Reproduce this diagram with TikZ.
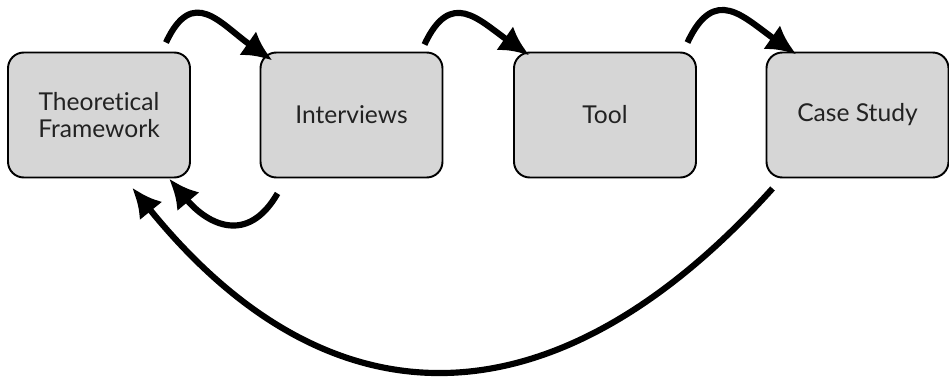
\documentclass[tikz,border=0pt]{standalone}
\usepackage{fontspec}
\setmainfont{Lato}[Ligatures=NoCommon]
\usetikzlibrary{arrows.meta}
\definecolor{boxgray}{RGB}{214,214,214}
\definecolor{textgray}{RGB}{34,34,34}

\begin{document}
\begin{tikzpicture}
      \useasboundingbox (0,0) rectangle (18.98,7.58);

      \tikzstyle{box}=[minimum width=3.64cm,minimum height=2.5cm,
        rectangle,rounded corners=9pt,draw,line width=1.1pt,
        fill=boxgray,text=textgray,align=center,
        font=\fontsize{14}{15}\selectfont]

      \node[box] (T) at (1.98,5.28)  {Theoretical\\Framework};
      \node[box] (I) at (7.03,5.28)  {Interviews};
      \node[box] (O) at (12.10,5.28) {Tool};
      \node[box] (C) at (17.15,5.28) {Case Study};

      \tikzstyle{fw}=[-{Latex[length=0.6cm,width=0.58cm]},line width=3.5pt]
      \tikzstyle{bk}=[-{Latex[length=0.6cm,width=0.58cm]},line width=3.5pt]

      \draw[fw] ([shift={(-0.50,0.18)}]T.north east)
        to[out=65,in=145,looseness=1.5] ([shift={(0.26,-0.18)}]I.north west);
      \draw[fw] ([shift={(-0.38,0.14)}]I.north east)
        to[out=65,in=145,looseness=1.5] ([shift={(0.33,-0.08)}]O.north west);
      \draw[fw] ([shift={(-0.19,0.18)}]O.north east)
        to[out=65,in=145,looseness=1.5] ([shift={(0.62,-0.06)}]C.north west);

      \draw[bk] ([shift={(0.36,-0.30)}]I.south west)
        to[out=-120,in=-50,looseness=1.4] ([shift={(-0.44,0)}]T.south east);
      \draw[bk] ([shift={(0.14,-0.20)}]C.south west)
        to[out=-132,in=-51,looseness=1.28] ([shift={(0.66,-0.18)}]T.south);
\end{tikzpicture}
\end{document}
